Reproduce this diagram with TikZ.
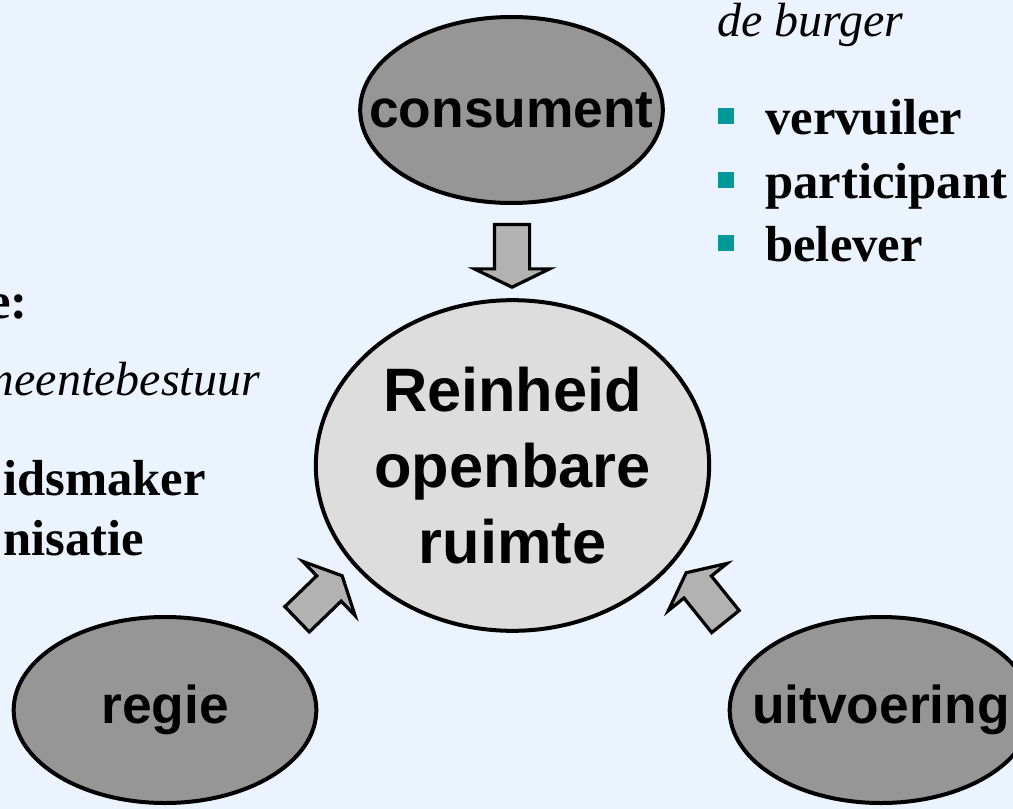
\documentclass[tikz,border=0pt]{standalone}
\usepackage{fontspec}
\setmainfont{Liberation Serif}
\setsansfont{Liberation Sans}
\usetikzlibrary{calc,shapes.geometric,shapes.arrows}
\definecolor{achtergrond}{HTML}{EBF3FE}
\definecolor{rolgrijs}{HTML}{969696}
\definecolor{kerngrijs}{HTML}{DDDDDD}
\definecolor{pijlgrijs}{HTML}{B2B2B2}
\definecolor{puntkleur}{HTML}{009999}
\tikzset{
  rol/.style={ellipse, draw, line width=3pt, fill=rolgrijs, inner sep=0pt,
    minimum width=227pt, minimum height=139.5pt,
    font=\sffamily\bfseries\fontsize{40}{48}\selectfont},
  kernrond/.style={ellipse, draw, line width=3pt, fill=kerngrijs, inner sep=0pt,
    minimum width=295pt, minimum height=248pt, align=center,
    font=\sffamily\bfseries\fontsize{46}{57}\selectfont},
  blokpijl/.style={single arrow, draw, line width=2.4pt, fill=pijlgrijs,
    inner xsep=0pt, inner ysep=12pt, minimum height=47pt,
    single arrow head extend=15pt, single arrow tip angle=128},
  punt/.style={fill=puntkleur, inner sep=0pt, minimum size=12pt},
  lijstitem/.style={anchor=base west, inner sep=0pt,
    font=\bfseries\fontsize{38}{45}\selectfont},
  kop/.style={anchor=base west, inner sep=0pt,
    font=\itshape\fontsize{36}{43}\selectfont}
}

\begin{document}
\begin{tikzpicture}[x=0.75pt,y=-0.75pt]
  \useasboundingbox (0,0) rectangle (1013,809);
  \clip (0,0) rectangle (1013,809);
  \fill[achtergrond] (0,0) rectangle (1013,809);

  % de drie rollen en de kern
  \node[rol] (cons) at (511.5,110) {\makebox[0pt]{consument}};
  \node[kernrond] (kern) at (512.5,465.5) {Reinheid\\openbare\\ruimte};
  \node[rol] (regie) at (165,710) {\makebox[0pt]{regie}};
  \node[rol] (uitv) at (881,710) {\makebox[0pt]{uitvoering}};

  % blokpijlen naar de kern
  \node[blokpijl, rotate=-90] (pijlc) at ($(cons.south)!0.5!(kern.north)$) {};
  \node[blokpijl, rotate=44] (pijlr) at (316.5,600.5) {};
  \node[blokpijl, rotate=128.8] (pijlu) at (708.5,600.5) {};

  % de burger
  \node[kop] (burger) at (717,37) {de burger};
  \foreach \tekst/\y [count=\i] in {vervuiler/135, participant/199, belever/262} {
    \node[punt] (punt\i) at (726,\y-19) {};
    \node[lijstitem] (rolb\i) at (765,\y) {\tekst};
  }

  % afgesneden tekst links
  \node[lijstitem, anchor=base east] (gem) at (28,318) {e:};
  \node[kop, anchor=base east] (bestuur) at (260,395) {meentebestuur};
  \node[lijstitem] (rolg1) at (3,495) {idsmaker};
  \node[lijstitem] (rolg2) at (3,555) {nisatie};
\end{tikzpicture}
\end{document}
